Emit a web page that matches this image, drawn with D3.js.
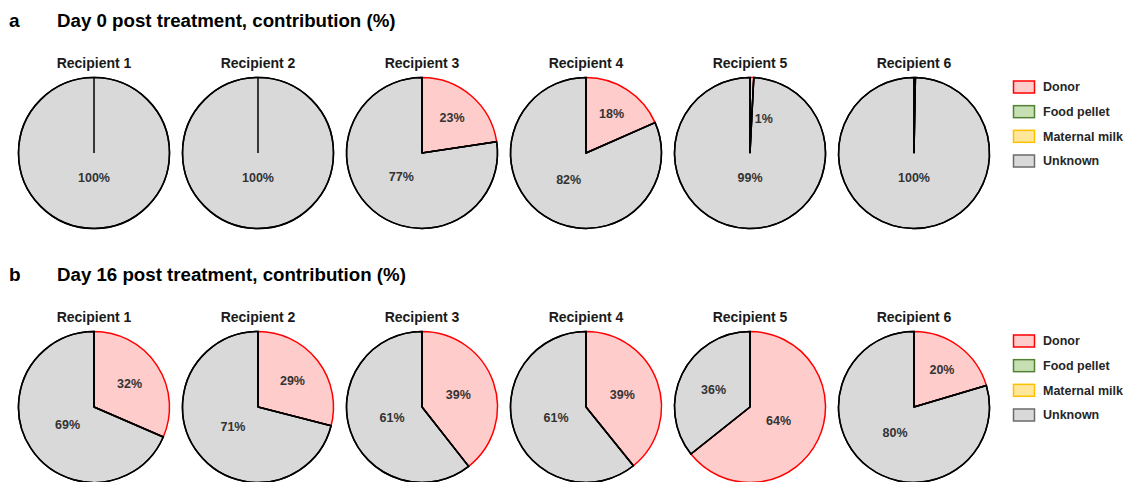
<!DOCTYPE html>
<html>
<head>
<meta charset="utf-8">
<script src="https://cdn.jsdelivr.net/npm/d3@7"></script>
<style>
  html, body { margin: 0; padding: 0; background: #ffffff; }
  svg { display: block; font-family: "Liberation Sans", Arial, sans-serif; }
</style>
</head>
<body>
<svg id="chart" width="1129" height="482"></svg>
<script>
// ---------- data ----------
const recipients = ["Recipient 1", "Recipient 2", "Recipient 3", "Recipient 4", "Recipient 5", "Recipient 6"];
const sources = ["Donor", "Food pellet", "Maternal milk", "Unknown"];
const panelLetters = ["a", "b"];
const panelTitles = ["Day 0 post treatment, contribution (%)", "Day 16 post treatment, contribution (%)"];

const day0Donor    = [0, 0, 22.6, 18.4, 0.8, 0.3];
const day0Food     = [0, 0, 0, 0, 0, 0];
const day0Milk     = [0, 0, 0, 0, 0, 0];
const day0Unknown  = [100, 100, 77.4, 81.6, 99.2, 99.7];

const day16Donor   = [31.5, 29, 39.4, 39.2, 64.3, 20.4];
const day16Food    = [0, 0, 0, 0, 0, 0];
const day16Milk    = [0, 0, 0, 0, 0, 0];
const day16Unknown = [68.5, 71, 60.6, 60.8, 35.7, 79.6];

const fills   = ["#ffcccc", "#c6e0b4", "#ffe699", "#d9d9d9"];
const strokes = ["#ff0000", "#548235", "#ffc000", "#000000"];
const legendStrokes = ["#ff0000", "#548235", "#ffc000", "#6b6b6b"];

const panels = [
  [day0Donor, day0Food, day0Milk, day0Unknown],
  [day16Donor, day16Food, day16Milk, day16Unknown]
];

// ---------- layout ----------
const svg = d3.select("#chart");
const panelOffset = 254;
const R = 75.5;
const x = d3.scalePoint().domain(recipients).range([94, 914]);
const color = d3.scaleOrdinal().domain(sources).range(fills);
const strokeColor = d3.scaleOrdinal().domain(sources).range(strokes);

const pie = d3.pie().sort(null).value(d => d.value);
const arc = d3.arc().innerRadius(0).outerRadius(R);

panels.forEach((series, p) => {
  const g = svg.append("g").attr("transform", `translate(0,${p * panelOffset})`);

  g.append("text").attr("x", 9).attr("y", 27)
    .attr("font-size", 19).attr("font-weight", "bold").attr("fill", "#000")
    .text(panelLetters[p]);
  g.append("text").attr("x", 57).attr("y", 27)
    .attr("font-size", 18.7).attr("font-weight", "bold").attr("fill", "#000")
    .text(panelTitles[p]);

  recipients.forEach((rec, i) => {
    const data = sources.map((s, k) => ({ source: s, value: series[k][i] }));
    const arcs = pie(data);
    const cx = x(rec), cy = 153;
    const pg = g.append("g").attr("transform", `translate(${cx},${cy})`);

    g.append("text").attr("x", cx).attr("y", 68)
      .attr("text-anchor", "middle").attr("font-size", 14)
      .attr("font-weight", "bold").attr("fill", "#1a1a1a").text(rec);

    // slices (fill + own-colour outline)
    pg.selectAll("path.slice").data(arcs.filter(a => a.endAngle > a.startAngle))
      .join("path").attr("class", "slice")
      .attr("d", arc)
      .attr("fill", d => color(d.data.source))
      .attr("stroke", d => strokeColor(d.data.source))
      .attr("stroke-width", 1.5)
      .attr("stroke-linejoin", "round");

    // unknown outline on top
    pg.selectAll("path.unk").data(arcs.filter(a => a.data.source === "Unknown" && a.endAngle > a.startAngle))
      .join("path").attr("class", "unk")
      .attr("d", arc).attr("fill", "none")
      .attr("stroke", "#000").attr("stroke-width", 1.5);

    // radial boundary lines (black)
    const bounds = Array.from(new Set(arcs.map(a => a.startAngle.toFixed(6)))).map(Number);
    if (arcs.length > 1) {
      pg.selectAll("line.rad").data(bounds).join("line").attr("class", "rad")
        .attr("x1", 0).attr("y1", 0)
        .attr("x2", a => R * Math.sin(a)).attr("y2", a => -R * Math.cos(a))
        .attr("stroke", "#000").attr("stroke-width", 1.5);
    }

    // labels
    arcs.forEach(a => {
      const pct = Math.round(a.data.value);
      if (pct < 1) return;
      const span = a.endAngle - a.startAngle;
      const half = span / 2;
      const mid = (a.startAngle + a.endAngle) / 2;
      let d = half >= Math.PI - 1e-6 ? 0 : (2 * R * Math.sin(half)) / (3 * half);
      d = Math.max(d, 0.42 * R);
      d = Math.min(d, 0.62 * R);
      let anchor = "middle";
      let lx = d * Math.sin(mid), ly = -d * Math.cos(mid);
      if (span >= 2 * Math.PI - 0.1) { lx = 0; ly = 25; }
      if (span < 0.2) { d = 0.45 * R; lx = d * Math.sin(a.endAngle) + 3; ly = -d * Math.cos(a.endAngle); anchor = "start"; }
      pg.append("text").attr("x", lx).attr("y", ly)
        .attr("dy", "0.35em").attr("text-anchor", anchor)
        .attr("font-size", 12.5).attr("font-weight", "bold").attr("fill", "#333")
        .text(pct + "%");
    });
  });

  // legend
  const leg = g.append("g");
  const ly = d3.scalePoint().domain(sources).range([87, 161]);
  sources.forEach((s, k) => {
    leg.append("rect").attr("x", 1013.5).attr("y", ly(s) - 6).attr("width", 21).attr("height", 12)
      .attr("fill", fills[k]).attr("stroke", legendStrokes[k]).attr("stroke-width", 1.5);
    leg.append("text").attr("x", 1043).attr("y", ly(s)).attr("dy", "0.35em")
      .attr("font-size", 12.5).attr("font-weight", "bold").attr("fill", "#262626").text(s);
  });
});
</script>
</body>
</html>
